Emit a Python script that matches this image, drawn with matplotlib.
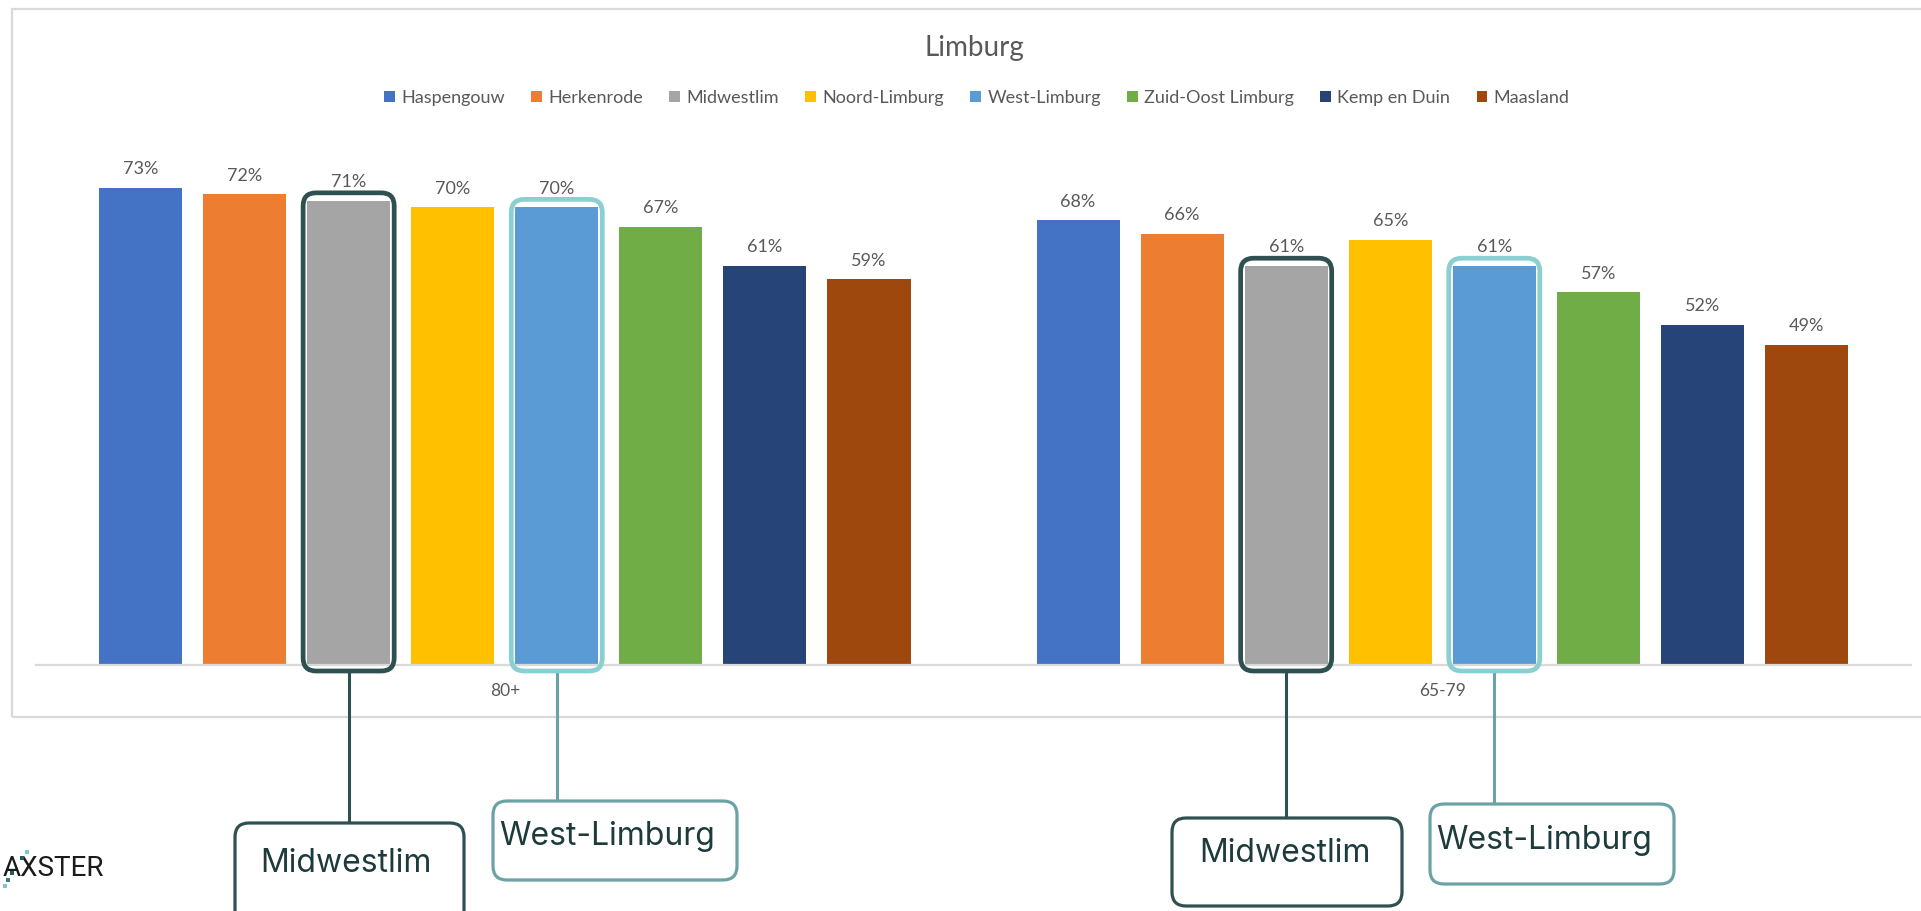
import matplotlib
matplotlib.use("Agg")
import matplotlib.pyplot as plt
from matplotlib.patches import FancyBboxPatch, Rectangle
from matplotlib.lines import Line2D
from matplotlib.transforms import IdentityTransform
import numpy as np

# ---------------- data ----------------
categories = ["80+", "65-79"]
regions = ["Haspengouw", "Herkenrode", "Midwestlim", "Noord-Limburg",
           "West-Limburg", "Zuid-Oost Limburg", "Kemp en Duin", "Maasland"]
values = {
    "Haspengouw":        [73, 68],
    "Herkenrode":        [72, 66],
    "Midwestlim":        [71, 61],
    "Noord-Limburg":     [70, 65],
    "West-Limburg":      [70, 61],
    "Zuid-Oost Limburg": [67, 57],
    "Kemp en Duin":      [61, 52],
    "Maasland":          [59, 49],
}
colors = ["#4472C4", "#ED7D31", "#A5A5A5", "#FFC000",
          "#5B9BD5", "#70AD47", "#264478", "#9E480E"]
title = "Limburg"
highlights = ["Midwestlim", "West-Limburg"]

# ---------------- figure ----------------
W, H = 1921, 911
fig = plt.figure(figsize=(W / 100, H / 100), dpi=100)
fig.patch.set_facecolor("white")
FONT = ["Lato", "DejaVu Sans"]
TXT = "#595959"

def fx(x):
    return x / W

def fy(y):
    return 1 - y / H

# chart area border
fig.add_artist(Rectangle((12, H - 717), 1940, 708, transform=IdentityTransform(),
                         fill=False, ec="#D9D9D9", lw=1.6))

ax = fig.add_axes([fx(36), fy(665), (1911 - 36) / W, (665 - 142) / H])
ax.set_xlim(-0.5, 1.5)
ax.set_ylim(0, 80)
for s in ["top", "right", "left"]:
    ax.spines[s].set_visible(False)
ax.spines["bottom"].set_color("#D9D9D9")
ax.spines["bottom"].set_linewidth(1.6)
ax.set_yticks([])
x = np.arange(len(categories))
ax.set_xticks(x)
ax.set_xticklabels(categories, fontsize=12.5, color=TXT, family=FONT)
ax.tick_params(axis="x", length=0, pad=13)

step = 0.111
width = 0.0886
bars = {}
for i, (reg, col) in enumerate(zip(regions, colors)):
    pos = x + (i - 3.5) * step
    b = ax.bar(pos, values[reg], width, color=col, label=reg, zorder=2)
    bars[reg] = b
    for xi, v in zip(pos, values[reg]):
        ax.annotate(f"{v}%", (xi, v), xytext=(0, 13.5), textcoords="offset points",
                    ha="center", va="center", fontsize=13, color=TXT, family=FONT)

fig.text(fx(974), fy(48), title, ha="center", va="center", fontsize=20,
         color=TXT, family=FONT)

fig.legend(loc="center", bbox_to_anchor=(fx(977), fy(98)), ncol=8, frameon=False,
           prop={"family": FONT, "size": 13}, labelcolor=TXT,
           handlelength=0.6, handleheight=0.6, handletextpad=0.35, columnspacing=1.45)

# ---------------- highlights & callouts ----------------
fig.canvas.draw()
hl_style = {"Midwestlim": dict(ec="#2E5050", lw=3.4),
            "West-Limburg": dict(ec="#8ACFD2", lw=3.4)}
box_style = {"Midwestlim": dict(ec="#2E5050", lw=2.3),
             "West-Limburg": dict(ec="#6BA3A5", lw=2.3)}
# callout boxes (layout, pixel coords top-down): x0, x1, ytop, ybottom, text x, text y
callouts = {
    ("Midwestlim", 0): (235, 464, 823, 930, 346, 863),
    ("West-Limburg", 0): (493, 737, 801, 880, 607, 837),
    ("Midwestlim", 1): (1172, 1402, 818, 906, 1285, 854),
    ("West-Limburg", 1): (1430, 1674, 804, 884, 1544, 841),
}
for reg in highlights:
    for ci, patch in enumerate(bars[reg]):
        bx0, by0 = ax.transData.transform((patch.get_x(), 0))
        bx1, by1 = ax.transData.transform((patch.get_x() + patch.get_width(), patch.get_height()))
        rx0, rx1 = bx0 - 4, bx1 + 4
        ry0, ry1 = by0 - 6, by1 + 8
        fig.add_artist(FancyBboxPatch((rx0, ry0), rx1 - rx0, ry1 - ry0,
                                      boxstyle="round,pad=0,rounding_size=13",
                                      transform=IdentityTransform(), fill=False,
                                      zorder=5, **hl_style[reg]))
        c0, c1, ct, cb, tx, ty = callouts[(reg, ci)]
        cx = (bx0 + bx1) / 2
        fig.add_artist(Line2D([cx, cx], [ry0, H - ct], transform=IdentityTransform(),
                              color=box_style[reg]["ec"], lw=2.2, zorder=4))
        fig.add_artist(FancyBboxPatch((c0, H - cb), c1 - c0, cb - ct,
                                      boxstyle="round,pad=0,rounding_size=14",
                                      transform=IdentityTransform(), fc="white",
                                      zorder=5, **box_style[reg]))
        fig.text(fx(tx), fy(ty), reg, ha="center", va="center", fontsize=23,
                 color="#1E3B3C", family=["Inter", "DejaVu Sans"], zorder=6)

# logo
fig.text(fx(3), fy(869), "AXSTER", ha="left", va="center", fontsize=20,
         color="#1B1B1B", family=["Roboto", "DejaVu Sans"])
dot_x = [27, 22, 12, 8, 5]
dot_y = [852, 858, 873, 880, 886]
dot_c = ["#7DC8CF", "#2F5A5C", "#2F5A5C", "#3E7C80", "#7DC8CF"]
for dx, dy, dc in zip(dot_x, dot_y, dot_c):
    fig.add_artist(Rectangle((dx - 2, H - dy - 2), 4, 4, transform=IdentityTransform(),
                             fc=dc, ec="none", zorder=7))

fig.savefig("out.png", dpi=100, facecolor="white")
